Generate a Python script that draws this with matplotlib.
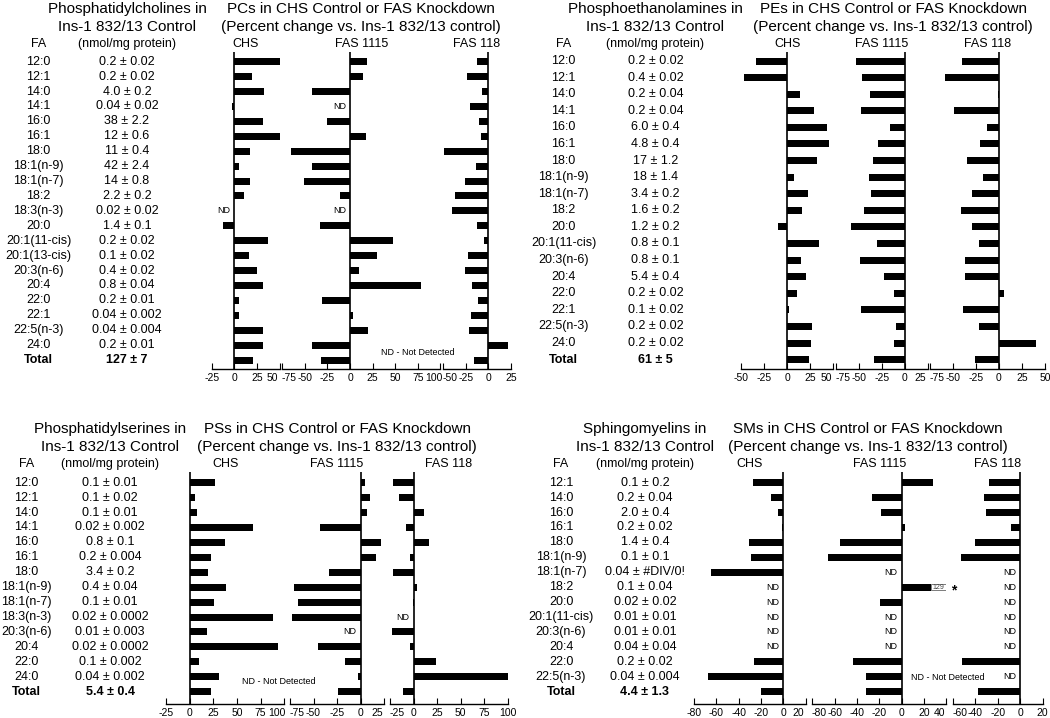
import numpy as np
import matplotlib.pyplot as plt
from matplotlib.transforms import ScaledTranslation

plt.rcParams["font.family"] = ["Liberation Sans", "DejaVu Sans"]
plt.rcParams["axes.unicode_minus"] = False

ND = np.nan
GROUPS = ["CHS", "FAS 1115", "FAS 118"]

# Phosphatidylcholines
pc_fa = ["12:0", "12:1", "14:0", "14:1", "16:0", "16:1", "18:0", "18:1(n-9)", "18:1(n-7)",
         "18:2", "18:3(n-3)", "20:0", "20:1(11-cis)", "20:1(13-cis)", "20:3(n-6)", "20:4",
         "22:0", "22:1", "22:5(n-3)", "24:0", "Total"]
pc_amount = ["0.2 ± 0.02", "0.2 ± 0.02", "4.0 ± 0.2", "0.04 ± 0.02", "38 ± 2.2", "12 ± 0.6",
             "11 ± 0.4", "42 ± 2.4", "14 ± 0.8", "2.2 ± 0.2", "0.02 ± 0.02", "1.4 ± 0.1",
             "0.2 ± 0.02", "0.1 ± 0.02", "0.4 ± 0.02", "0.8 ± 0.04", "0.2 ± 0.01",
             "0.04 ± 0.002", "0.04 ± 0.004", "0.2 ± 0.01", "127 ± 7"]
pc_chs = [50, 19.7, 33, -2, 31.8, 50, 17.8, 5.3, 17.8, 11, ND, -12.5, 37.5, 16.7, 24.6,
          31.8, 5.3, 5.3, 31.8, 31.8, 21]
pc_fas1115 = [19, 14, -41.7, ND, -25.4, 17.8, -65, -42.4, -51, -10.6, ND, -33.3, 47.3, 30.3,
              9.5, 78.8, -31.4, 3.8, 20, -41.7, -32]
pc_fas118 = [-12, -23.5, -7.2, -19.7, -10.6, -8, -49, -14, -26, -36.7, -40.5, -12.5, -4.5,
             -22.7, -25.4, -17.8, -11, -19, -20.8, 22, -15.5]

# Phosphoethanolamines
pe_fa = ["12:0", "12:1", "14:0", "14:1", "16:0", "16:1", "18:0", "18:1(n-9)", "18:1(n-7)",
         "18:2", "20:0", "20:1(11-cis)", "20:3(n-6)", "20:4", "22:0", "22:1", "22:5(n-3)",
         "24:0", "Total"]
pe_amount = ["0.2 ± 0.02", "0.4 ± 0.02", "0.2 ± 0.04", "0.2 ± 0.04", "6.0 ± 0.4", "4.8 ± 0.4",
             "17 ± 1.2", "18 ± 1.4", "3.4 ± 0.2", "1.6 ± 0.2", "1.2 ± 0.2", "0.8 ± 0.1",
             "0.8 ± 0.1", "5.4 ± 0.4", "0.2 ± 0.02", "0.1 ± 0.02", "0.2 ± 0.02", "0.2 ± 0.02",
             "61 ± 5"]
pe_chs = [-33.7, -46.6, 13.6, 29.4, 43, 44.8, 32.6, 6.8, 23, 15.8, -10.4, 34.8, 15, 20.8,
          11, 1.4, 27.2, 26.2, 23.3]
pe_fas1115 = [-52.7, -46.6, -37.3, -47.7, -16.1, -28.7, -34.8, -39, -36.6, -43.7, -58.8,
              -30.5, -48, -22.9, -11.1, -47.3, -9, -11.1, -33.7]
pe_fas118 = [-40, -58.8, -1, -49, -13.3, -20.4, -34.8, -17.2, -28.7, -40.9, -29.7, -21.5,
             -36.6, -37.3, 5.4, -39.4, -21.9, 39.8, -26.5]

# Phosphatidylserines
ps_fa = ["12:0", "12:1", "14:0", "14:1", "16:0", "16:1", "18:0", "18:1(n-9)", "18:1(n-7)",
         "18:3(n-3)", "20:3(n-6)", "20:4", "22:0", "24:0", "Total"]
ps_amount = ["0.1 ± 0.01", "0.1 ± 0.02", "0.1 ± 0.01", "0.02 ± 0.002", "0.8 ± 0.1",
             "0.2 ± 0.004", "3.4 ± 0.2", "0.4 ± 0.04", "0.1 ± 0.01", "0.02 ± 0.0002",
             "0.01 ± 0.003", "0.02 ± 0.0002", "0.1 ± 0.002", "0.04 ± 0.002", "5.4 ± 0.4"]
ps_chs = [26.7, 5.3, 7.1, 66.9, 37.7, 22.4, 18.9, 38.8, 26, 88.6, 17.8, 93.2, 9.3, 31, 22]
ps_fas1115 = [5.3, 10.3, 6.4, -42.7, 21.4, 16, -33, -70.5, -66.5, -73.3, ND, -45.2, -17,
              -2.8, -23.8]
ps_fas118 = [-22, -15.7, 11.4, -8.5, 16, -3.6, -21.4, 3.9, -1, ND, -22.4, -3.9, 24.2, 100,
             -10.7]

# Sphingomyelins
sm_fa = ["12:1", "14:0", "16:0", "16:1", "18:0", "18:1(n-9)", "18:1(n-7)", "18:2", "20:0",
         "20:1(11-cis)", "20:3(n-6)", "20:4", "22:0", "22:5(n-3)", "Total"]
sm_amount = ["0.1 ± 0.2", "0.2 ± 0.04", "2.0 ± 0.4", "0.2 ± 0.02", "1.4 ± 0.4", "0.1 ± 0.1",
             "0.04 ± #DIV/0!", "0.1 ± 0.04", "0.02 ± 0.02", "0.01 ± 0.01", "0.01 ± 0.01",
             "0.04 ± 0.04", "0.2 ± 0.02", "0.04 ± 0.004", "4.4 ± 1.3"]
sm_chs = [-27.5, -11, -5.1, -0.9, -30.7, -29, -65, ND, ND, ND, ND, ND, -26.6, -67.2, -20]
sm_fas1115 = [28, -26.3, -18.5, 3.3, -55.5, -65.7, ND, 129, -19.7, ND, ND, ND, -43.6, -32.2,
              -32.2]
sm_fas118 = [-28, -32.2, -30.7, -7.8, -40, -52.8, ND, ND, ND, ND, ND, ND, -52, ND, -37.9]

W, H = 1050, 718
fig = plt.figure(figsize=(W / 100, H / 100), dpi=100)


def fx(x):
    return x / W


def fy(y):
    return 1 - y / H


def shift(label, px):
    # nudge an end tick label sideways so neighbouring axes' labels don't collide
    label.set_transform(label.get_transform() + ScaledTranslation(px / 100, 0, fig.dpi_scale_trans))


def panel(title, right_title, fa, amount, series, xlims, step, x0, left, scale, gap,
          fa_x, amt_x, y_top, y_bottom, y_first, y_last, note=None):
    n = len(fa)
    rows = np.arange(n)
    sp = (y_last - y_first) / (n - 1)
    ylim = ((n - 1) + (y_bottom - y_last) / sp, -(y_first - y_top) / sp)
    bar_h = 7 / sp

    # table of amounts
    tab = fig.add_axes([fx(x0), fy(y_bottom), (left - x0 - 4) / W, (y_bottom - y_top) / H])
    tab.set_xlim(x0, left - 4)
    tab.set_ylim(*ylim)
    tab.axis("off")
    for i in rows:
        bold = "bold" if fa[i] == "Total" else "normal"
        tab.text(fa_x, i, fa[i], ha="center", va="center", fontsize=9, fontweight=bold)
        tab.text(amt_x, i, amount[i], ha="center", va="center", fontsize=9, fontweight=bold)

    fig.text(fx(amt_x), fy(y_top - 43), title, ha="center", va="center", fontsize=11)
    fig.text(fx(amt_x), fy(y_top - 25), "Ins-1 832/13 Control", ha="center", va="center",
             fontsize=11)
    fig.text(fx(fa_x), fy(y_top - 8), "FA", ha="center", va="center", fontsize=9)
    fig.text(fx(amt_x), fy(y_top - 8), "(nmol/mg protein)", ha="center", va="center",
             fontsize=9)

    x = left
    for j, ((lo, hi), vals, name) in enumerate(zip(xlims, series, GROUPS)):
        w = (hi - lo) * scale
        ax = fig.add_axes([fx(x), fy(y_bottom), w / W, (y_bottom - y_top) / H])
        ax.patch.set_visible(False)
        ax.set_xlim(lo, hi)
        ax.set_ylim(*ylim)
        v = np.array(vals, dtype=float)
        ok = ~np.isnan(v)
        over = ok & (v > hi)
        normal = ok & ~over
        ax.barh(rows[normal], v[normal], height=bar_h, color="black")
        # value off the scale: bar broken at brk, remainder shown as a labelled box
        brk = 26
        for i in rows[over]:
            ax.barh(i, brk, height=bar_h, color="black")
            ax.barh(i, hi - brk, left=brk, height=bar_h * 0.8, facecolor="white",
                    edgecolor="#666666", linewidth=0.6, zorder=2)
            ax.text((hi + brk) / 2, i, f"{v[i]:.0f}", ha="center", va="center",
                    fontsize=5, color="#444444", zorder=3)
            ax.annotate("*", (hi, i), xytext=(3, -2), textcoords="offset points",
                        ha="left", va="center", fontsize=10, fontweight="bold",
                        annotation_clip=False)
        for i in rows[~ok]:
            ax.annotate("ND", (0, i), xytext=(-3, 0), textcoords="offset points",
                        ha="right", va="center", fontsize=6.5)
        ax.axvline(0, color="black", linewidth=1.2)
        for s in ["top", "left", "right"]:
            ax.spines[s].set_visible(False)
        ax.spines["bottom"].set_linewidth(1.0)
        ticks = np.arange(lo, hi + 1, step)
        ax.set_xticks(ticks)
        ax.set_xticklabels([str(int(t)) for t in ticks])
        ax.set_yticks([])
        ax.tick_params(axis="x", direction="in", length=4, width=0.8, labelsize=7.5, pad=3)
        tks = ax.xaxis.get_major_ticks()
        if j > 0:
            shift(tks[0].label1, 7)
        if j < 2:
            shift(tks[-1].label1, -7)
        fig.text(fx(x + w / 2), fy(y_top - 8), name, ha="center", va="center", fontsize=9)
        if note is not None and note[0] == j:
            ax.text(note[1], note[2], "ND - Not Detected", ha="center", va="center",
                    fontsize=6.5)
        x += w + gap
    right_end = x - gap
    cx = (left + right_end) / 2
    fig.text(fx(cx), fy(y_top - 43), right_title, ha="center", va="center", fontsize=11)
    fig.text(fx(cx), fy(y_top - 25), "(Percent change vs. Ins-1 832/13 control)",
             ha="center", va="center", fontsize=11)


panel("Phosphatidylcholines in", "PCs in CHS Control or FAS Knockdown", pc_fa, pc_amount,
      [pc_chs, pc_fas1115, pc_fas118], [(-25, 50), (-75, 100), (-50, 25)], 25,
      0, 211.7, 0.904, 2.7, 38.5, 127, 52, 369, 61.7, 360, note=(1, 75, 19.47))
panel("Phosphoethanolamines in", "PEs in CHS Control or FAS Knockdown", pe_fa, pe_amount,
      [pe_chs, pe_fas1115, pe_fas118], [(-50, 50), (-75, 25), (-75, 50)], 25,
      525, 741.3, 0.92, 2.3, 563.5, 655.5, 52, 369, 61, 359.6)
panel("Phosphatidylserines in", "PSs in CHS Control or FAS Knockdown", ps_fa, ps_amount,
      [ps_chs, ps_fas1115, ps_fas118], [(-25, 100), (-75, 25), (-25, 100)], 25,
      0, 166.5, 0.94, 6, 26.5, 110, 472, 703.5, 482.7, 691.7, note=(0, 94, 13.33))
panel("Sphingomyelins in", "SMs in CHS Control or FAS Knockdown", sm_fa, sm_amount,
      [sm_chs, sm_fas1115, sm_fas118], [(-80, 20), (-80, 40), (-60, 20)], 20,
      525, 694, 1.117, 6.7, 561, 645, 472, 703.5, 482.7, 691.7, note=(1, 41.4, 13.05))

fig.savefig("out.png", dpi=100)
